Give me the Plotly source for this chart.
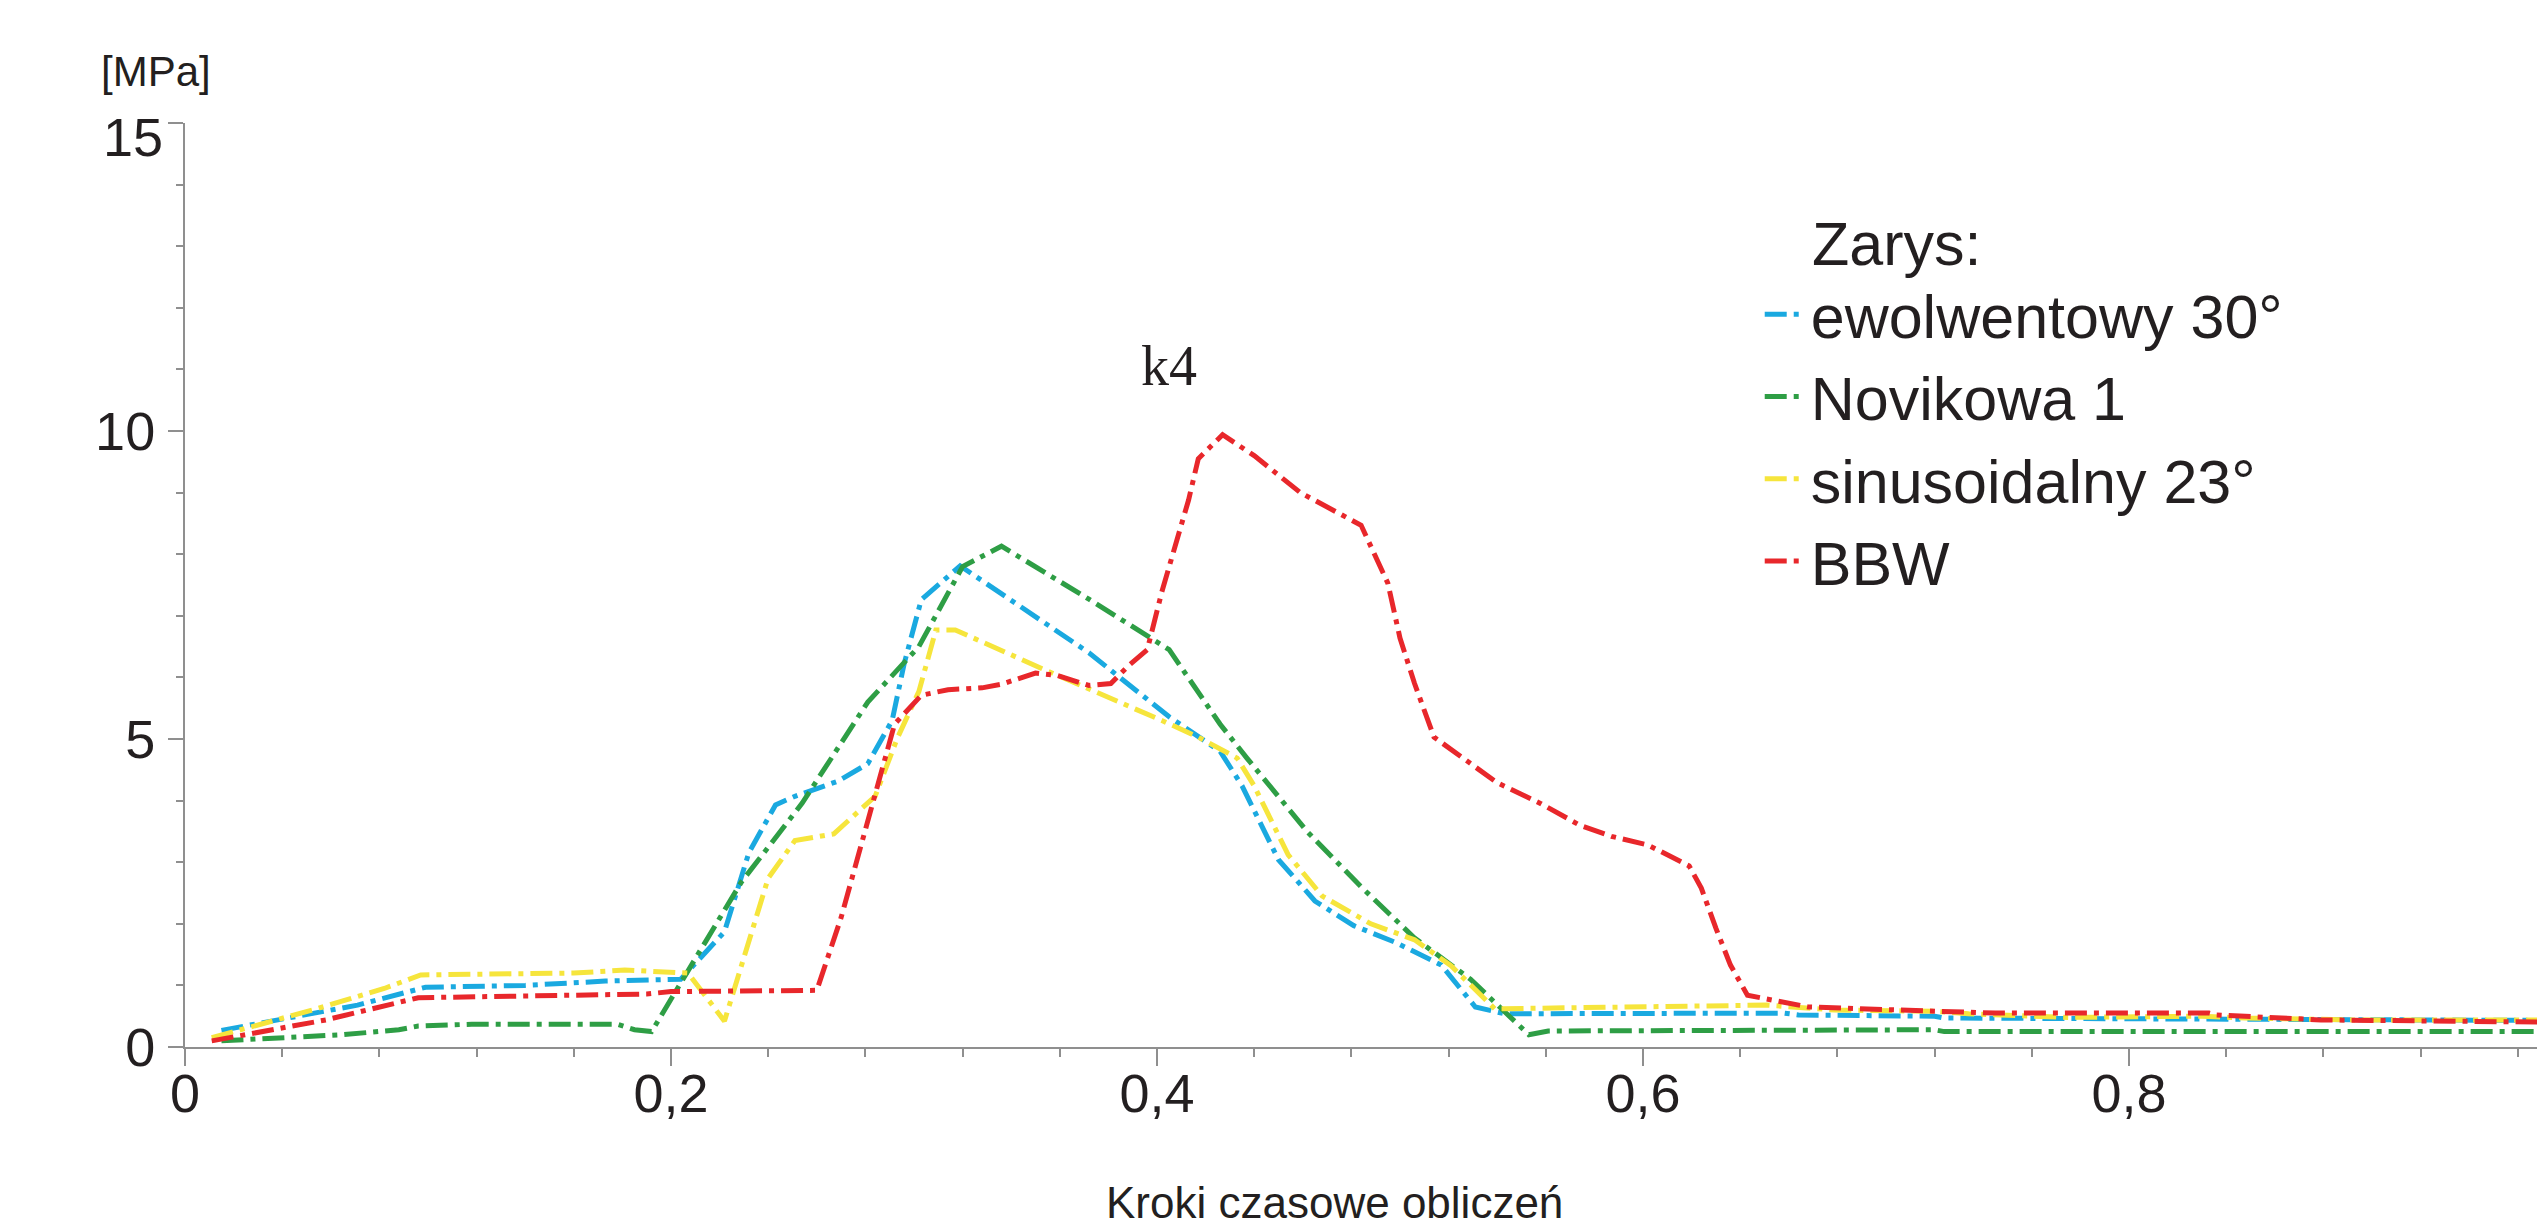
import plotly.graph_objects as go

# ---- data ----
names = ["ewolwentowy 30°", "Novikowa 1", "sinusoidalny 23°", "BBW"]
colors = ["#1AA9E0", "#2E9E45", "#F6E53C", "#E8272B"]

x_ewol = [0.015, 0.071, 0.099, 0.14, 0.173, 0.204, 0.222, 0.226, 0.232, 0.243, 0.251,
          0.269, 0.281, 0.291, 0.296, 0.303, 0.311, 0.319, 0.372, 0.405, 0.426, 0.435,
          0.45, 0.465, 0.481, 0.498, 0.517, 0.531, 0.543, 0.658, 0.664, 0.72, 0.724, 0.98]
y_ewol = [0.27, 0.68, 0.97, 1.0, 1.07, 1.1, 1.87, 2.4, 3.15, 3.93, 4.07,
          4.32, 4.6, 5.3, 6.23, 7.26, 7.53, 7.81, 6.4, 5.36, 4.8, 4.24,
          3.04, 2.37, 1.97, 1.7, 1.33, 0.65, 0.54, 0.55, 0.52, 0.5, 0.47, 0.43]

x_novi = [0.015, 0.046, 0.065, 0.088, 0.096, 0.118, 0.178, 0.185, 0.192, 0.229, 0.254,
          0.281, 0.302, 0.32, 0.336, 0.372, 0.405, 0.426, 0.437, 0.462, 0.484, 0.506,
          0.529, 0.553, 0.561, 0.72, 0.724, 0.98]
y_novi = [0.1, 0.16, 0.2, 0.28, 0.34, 0.37, 0.37, 0.28, 0.25, 2.68, 3.96,
          5.6, 6.5, 7.8, 8.13, 7.27, 6.45, 5.24, 4.69, 3.49, 2.6, 1.77,
          1.1, 0.2, 0.26, 0.28, 0.25, 0.25]

x_sinu = [0.011, 0.055, 0.082, 0.097, 0.16, 0.181, 0.207, 0.222, 0.24, 0.251, 0.267,
          0.284, 0.293, 0.302, 0.309, 0.317, 0.354, 0.38, 0.402, 0.417, 0.433, 0.44,
          0.454, 0.468, 0.488, 0.506, 0.521, 0.539, 0.651, 0.679, 0.72, 0.734, 0.775,
          0.83, 0.848, 0.892, 0.98]
y_sinu = [0.15, 0.63, 0.95, 1.17, 1.2, 1.25, 1.2, 0.42, 2.74, 3.35, 3.46,
          4.07, 5.0, 5.77, 6.77, 6.77, 6.12, 5.68, 5.3, 5.03, 4.69, 4.24,
          3.12, 2.45, 2.0, 1.74, 1.32, 0.62, 0.68, 0.6, 0.58, 0.54, 0.48,
          0.5, 0.47, 0.44, 0.44]

x_bbw = [0.011, 0.058, 0.096, 0.16, 0.175, 0.19, 0.2, 0.26, 0.27, 0.278, 0.292,
         0.303, 0.314, 0.328, 0.336, 0.35, 0.359, 0.372, 0.381, 0.388, 0.396, 0.402,
         0.407, 0.413, 0.417, 0.427, 0.44, 0.459, 0.484, 0.495, 0.5, 0.506, 0.514,
         0.54, 0.558, 0.574, 0.587, 0.602, 0.619, 0.624, 0.63, 0.636, 0.643, 0.657,
         0.668, 0.706, 0.745, 0.833, 0.836, 0.879, 0.95, 0.98]
y_bbw = [0.1, 0.44, 0.8, 0.83, 0.85, 0.86, 0.9, 0.92, 2.1, 3.26, 5.24,
         5.71, 5.8, 5.83, 5.89, 6.07, 6.03, 5.87, 5.9, 6.18, 6.45, 7.39,
         8.05, 8.88, 9.55, 9.94, 9.6, 9.0, 8.47, 7.53, 6.64, 5.9, 5.03,
         4.29, 3.95, 3.6, 3.42, 3.28, 2.94, 2.58, 1.93, 1.33, 0.84, 0.74,
         0.65, 0.6, 0.55, 0.55, 0.52, 0.44, 0.4, 0.4]

xs = [x_ewol, x_novi, x_sinu, x_bbw]
ys = [y_ewol, y_novi, y_sinu, y_bbw]

y_ticks = [0, 5, 10, 15]
y_ticktext = ["0", "5", "10", ""]   # top label "15" is drawn slightly lower, as in the reference
y_top_label = "15"
x_ticks = [0, 0.2, 0.4, 0.6, 0.8]

FONT = "Liberation Sans, Arial, sans-serif"
AXIS_GRAY = "#8f8f8f"
TEXT = "#231F20"
TICK_SIZE = 54

fig = go.Figure()
for n, c, x, y in zip(names, colors, xs, ys):
    fig.add_trace(go.Scatter(
        x=x, y=y, name=n, mode="lines",
        line=dict(color=c, width=5, dash="22px,7px,5px,7px"),
    ))

fig.update_layout(
    width=2545, height=1227,
    margin=dict(l=177, r=0, t=115, b=188),
    paper_bgcolor="white", plot_bgcolor="white",
    separators=", ",
    font=dict(family=FONT, color=TEXT),
    showlegend=True,
    legend=dict(
        x=0.665, xanchor="left", y=0.843, yanchor="top",
        font=dict(size=61, family=FONT, color=TEXT),
        itemwidth=41, bgcolor="rgba(0,0,0,0)",
        tracegroupgap=0,
    ),
    xaxis=dict(
        range=[0, 0.9745], tickvals=x_ticks,
        showline=True, linecolor=AXIS_GRAY, linewidth=2,
        ticks="outside", ticklen=17, tickwidth=1.5, tickcolor=AXIS_GRAY,
        tickfont=dict(size=TICK_SIZE, family=FONT, color=TEXT),
        ticklabelstandoff=-19,
        showgrid=False, zeroline=False,
        minor=dict(dtick=0.04, tick0=0, ticks="outside", ticklen=8,
                   tickwidth=1.5, tickcolor=AXIS_GRAY, showgrid=False),
    ),
    yaxis=dict(
        range=[0, 15], tickvals=y_ticks, ticktext=y_ticktext,
        showline=True, linecolor=AXIS_GRAY, linewidth=2,
        ticks="outside", ticklen=15, tickwidth=1.5, tickcolor=AXIS_GRAY,
        tickfont=dict(size=TICK_SIZE, family=FONT, color=TEXT),
        ticklabelstandoff=2,
        showgrid=False, zeroline=False,
        minor=dict(dtick=1, tick0=0, ticks="outside", ticklen=7,
                   tickwidth=1.5, tickcolor=AXIS_GRAY, showgrid=False),
    ),
    annotations=[
        dict(text=y_top_label, xref="paper", yref="y", x=-0.0084, y=y_ticks[-1],
             xanchor="right", yanchor="middle", yshift=-14, showarrow=False,
             font=dict(size=TICK_SIZE, family=FONT, color=TEXT)),
        dict(text="[MPa]", xref="paper", yref="paper", x=-0.0122, y=1.0555,
             xanchor="center", yanchor="middle", showarrow=False,
             font=dict(size=42, family=FONT, color=TEXT)),
        dict(text="Kroki czasowe obliczeń", xref="paper", yref="paper",
             x=0.4856, y=-0.197, xanchor="center", yanchor="bottom",
             showarrow=False, font=dict(size=44, family=FONT, color=TEXT)),
        dict(text="Zarys:", xref="paper", yref="paper", x=0.6864, y=0.869,
             xanchor="left", yanchor="middle", showarrow=False,
             font=dict(size=61, family=FONT, color=TEXT)),
        dict(text="k4", xref="x", yref="y", x=0.405, y=11.05,
             xanchor="center", yanchor="middle", showarrow=False,
             font=dict(size=56, family="Liberation Serif, Times New Roman, serif",
                       color=TEXT)),
    ],
)

fig.write_html("out.html")
